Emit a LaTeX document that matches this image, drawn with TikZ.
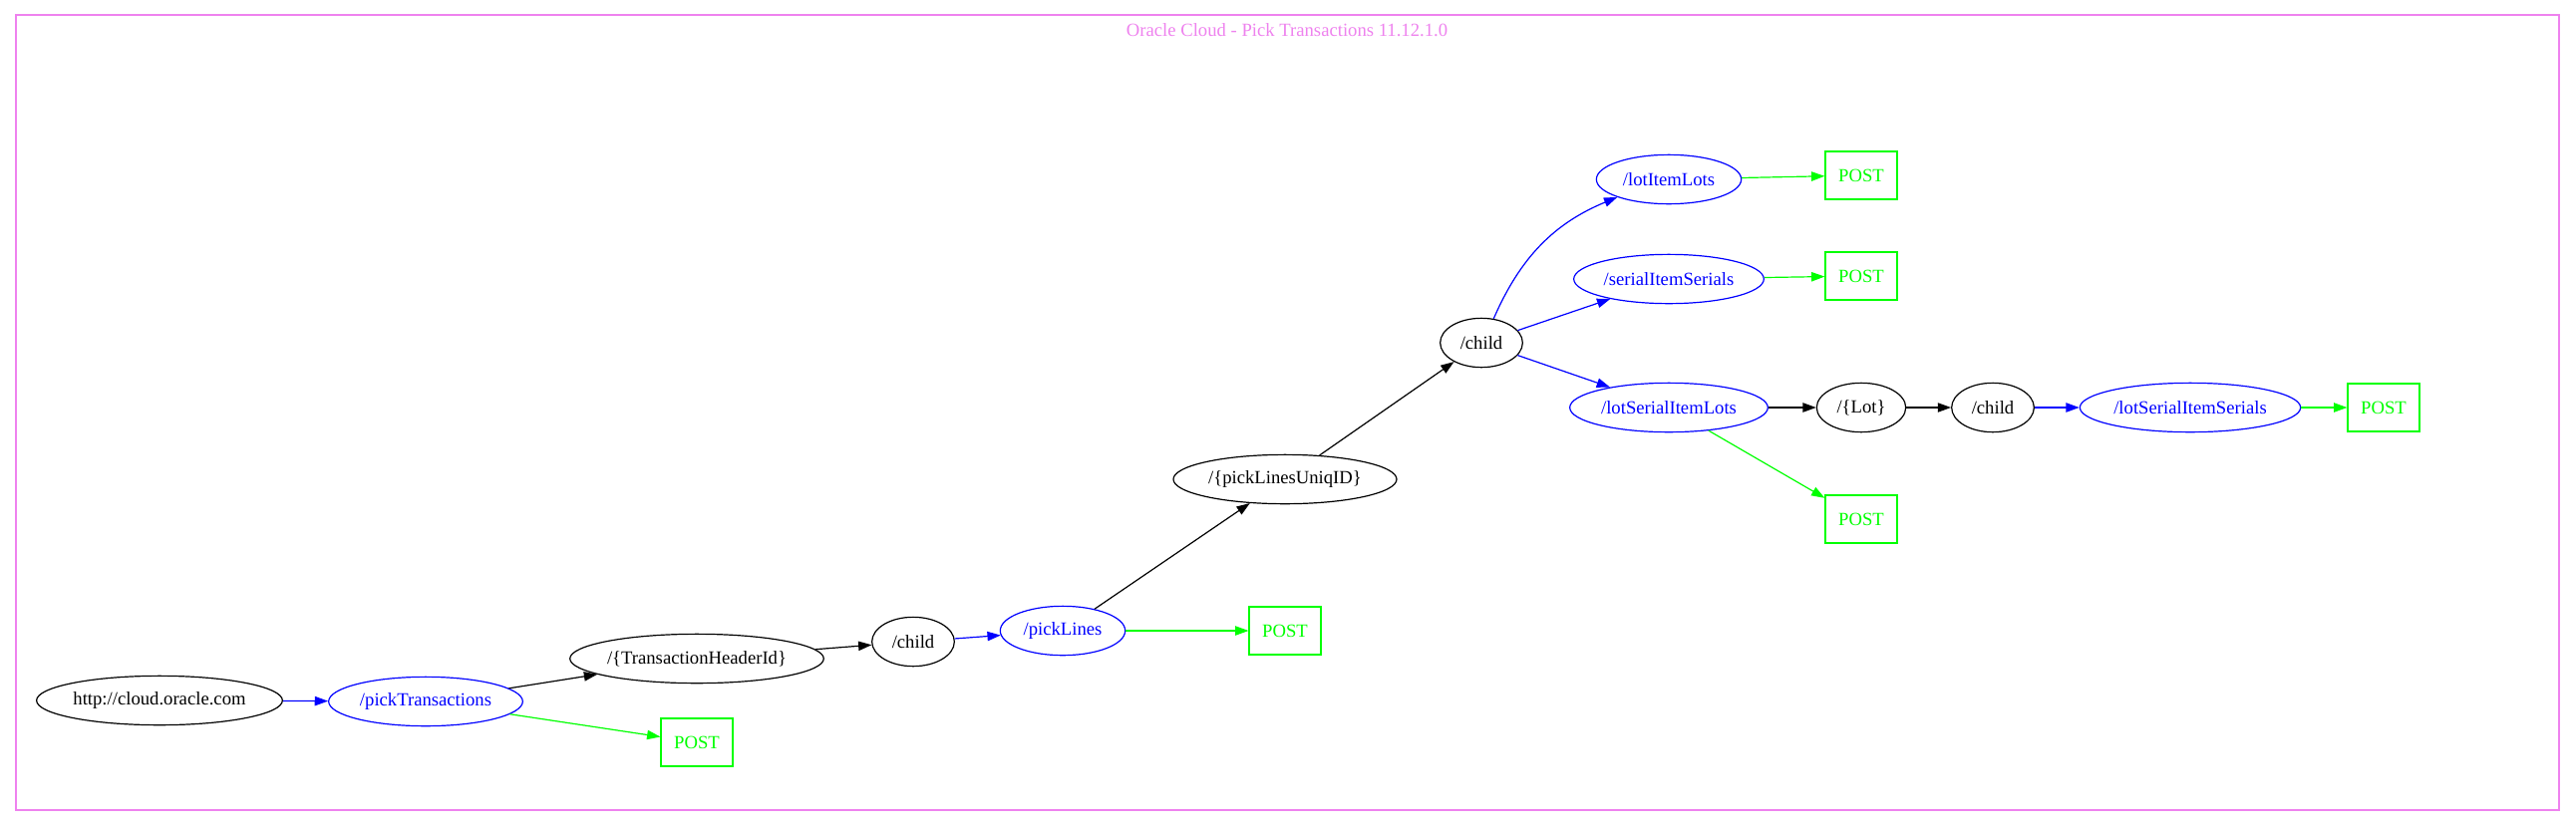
\documentclass[tikz,border=0pt]{standalone}
\usepackage{fontspec}
\setmainfont{Liberation Serif}
\usetikzlibrary{arrows.meta,shapes.geometric}
\definecolor{gvblue}{RGB}{0,0,255}
\definecolor{gvgreen}{RGB}{0,255,0}
\definecolor{gvviolet}{RGB}{238,130,238}
\begin{document}
\begin{tikzpicture}
				[x=0.75pt,y=-0.75pt,
				every node/.style={font=\fontsize{14}{16}\selectfont},
				res/.style={ellipse,draw,line width=0.9pt,inner sep=0pt,minimum height=37pt},
				api/.style={res,draw=gvblue,text=gvblue},
				post/.style={rectangle,draw=gvgreen,text=gvgreen,line width=0.9pt,minimum width=54pt,minimum height=36pt,inner sep=0pt},
				link/.style={-{Triangle[length=10pt,width=7pt]},line width=0.9pt},
				sub/.style={link,gvblue},
				verb/.style={link,gvgreen}]
				\useasboundingbox (0,0) rectangle (2584,829);
				\draw[gvviolet,line width=0.9pt] (16,15) rectangle (2567,813);
				\node[text=gvviolet] (title) at (1291,30) {Oracle Cloud - Pick Transactions 11.12.1.0};
				\node[res,minimum width=185pt] (root) at (160,703) {http://cloud.oracle.com};
				\node[api,minimum width=146pt] (pickTx) at (427,704) {/pickTransactions};
				\node[post] (pickTxPost) at (699,745) {POST};
				\node[res,minimum width=190pt] (txHeader) at (699,661) {/\{TransactionHeaderId\}};
				\node[res,minimum width=62pt] (childA) at (916,644) {/child};
				\node[api,minimum width=94pt] (pickLines) at (1066,633) {/pickLines};
				\node[post] (pickLinesPost) at (1289,633) {POST};
				\node[res,minimum width=168pt] (linesId) at (1289,481) {/\{pickLinesUniqID\}};
				\node[res,minimum width=62pt] (childB) at (1486,344) {/child};
				\node[api,minimum width=109pt] (lotItem) at (1674,180) {/lotItemLots};
				\node[post] (lotItemPost) at (1867,176) {POST};
				\node[api,minimum width=143pt] (serialItem) at (1674,280) {/serialItemSerials};
				\node[post] (serialItemPost) at (1867,277) {POST};
				\node[api,minimum width=149pt] (lotSerial) at (1674,409) {/lotSerialItemLots};
				\node[post] (lotSerialPost) at (1867,521) {POST};
				\node[res,minimum width=67pt] (lot) at (1867,409) {/\{Lot\}};
				\node[res,minimum width=62pt] (childC) at (1999,409) {/child};
				\node[api,minimum width=166pt] (lotSerialSer) at (2197,409) {/lotSerialItemSerials};
				\node[post] (lotSerialSerPost) at (2391,409) {POST};
				\draw[sub] (root) -- (pickTx);
				\draw[link] (pickTx) -- (txHeader);
				\draw[verb] (pickTx) -- (pickTxPost);
				\draw[link] (txHeader) -- (childA);
				\draw[sub] (childA) -- (pickLines);
				\draw[verb] (pickLines) -- (pickLinesPost);
				\draw[link] (pickLines) -- (linesId);
				\draw[link] (linesId) -- (childB);
				\draw[sub] (childB) to[bend left=22] (lotItem);
				\draw[sub] (childB) -- (serialItem);
				\draw[sub] (childB) -- (lotSerial);
				\draw[verb] (lotItem) -- (lotItemPost);
				\draw[verb] (serialItem) -- (serialItemPost);
				\draw[link] (lotSerial) -- (lot);
				\draw[verb] (lotSerial) -- (lotSerialPost);
				\draw[link] (lot) -- (childC);
				\draw[sub] (childC) -- (lotSerialSer);
				\draw[verb] (lotSerialSer) -- (lotSerialSerPost);
				\end{tikzpicture}
\end{document}
